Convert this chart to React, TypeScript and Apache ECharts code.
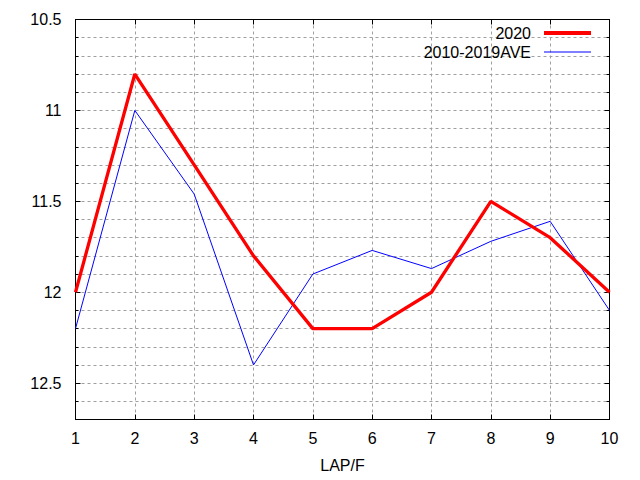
import React, { useEffect, useRef } from "react";
import * as echarts from "echarts";

const laps = [1, 2, 3, 4, 5, 6, 7, 8, 9, 10];
const series2020 = [12.0, 10.8, 11.3, 11.8, 12.2, 12.2, 12.0, 11.5, 11.7, 12.0];
const seriesAve = [12.2, 11.0, 11.46, 12.4, 11.9, 11.77, 11.87, 11.72, 11.61, 12.1];
const seriesNames = ["2020", "2010-2019AVE"];
const xName = "LAP/F";

const FONT = "Liberation Sans, Arial, sans-serif";

export default function App() {
  const ref = useRef<HTMLDivElement>(null);
  useEffect(() => {
    if (!ref.current) return;
    const chart = echarts.init(ref.current, undefined, { renderer: "svg" });
    const grid = { left: 75.5, top: 19.5, right: 30.5, bottom: 60.5 };
    const dash = { color: "#a0a0a0", type: [3, 3] as any, width: 1 };
    const isHalf = (v: number) => Math.abs(v * 2 - Math.round(v * 2)) < 1e-6;
    const yBase = {
      type: "value" as const,
      inverse: true,
      min: 10.5,
      max: 12.7,
      axisLine: { show: true, lineStyle: { color: "#000", width: 1 } },
    };
    const xBase = {
      type: "value" as const,
      min: 1,
      max: 10,
      interval: 1,
      axisLine: { show: true, lineStyle: { color: "#000", width: 1 } },
    };
    const legendText = { fontSize: 16, color: "#000", fontFamily: FONT, padding: [0, 8, 0, 0], lineHeight: 16 };
    chart.setOption({
      animation: false,
      backgroundColor: "#fff",
      textStyle: { fontFamily: FONT },
      grid: { ...grid, show: true, borderColor: "#000", borderWidth: 1, backgroundColor: "transparent" },
      legend: [
        {
          data: [{ name: seriesNames[0], icon: "rect", itemStyle: { color: "#ff0000", borderWidth: 0 } }],
          right: 49,
          top: 25,
          padding: 0,
          align: "right",
          itemWidth: 47,
          itemHeight: 4,
          textStyle: legendText,
        },
        {
          data: [{ name: seriesNames[1], icon: "rect", itemStyle: { color: "#0000ff", borderWidth: 0 } }],
          right: 49,
          top: 44,
          padding: 0,
          align: "right",
          itemWidth: 47,
          itemHeight: 1.2,
          textStyle: legendText,
        },
      ],
      xAxis: [
        {
          ...xBase,
          position: "bottom",
          name: xName,
          nameLocation: "middle",
          nameGap: 38,
          nameTextStyle: { fontSize: 16, color: "#000", fontFamily: FONT },
          axisTick: { show: true, inside: true, length: 5, lineStyle: { color: "#000" } },
          axisLabel: { fontSize: 16, color: "#000", margin: 11, fontFamily: FONT },
          splitLine: { show: true, lineStyle: dash },
        },
        {
          ...xBase,
          position: "top",
          axisTick: { show: true, inside: true, length: 5, lineStyle: { color: "#000" } },
          axisLabel: { show: false },
          splitLine: { show: false },
        },
      ],
      yAxis: [
        {
          ...yBase,
          position: "left",
          interval: 0.1,
          axisTick: { show: true, inside: true, length: 3, lineStyle: { color: "#000" } },
          axisLabel: { show: false },
          splitLine: { show: true, lineStyle: dash },
        },
        {
          ...yBase,
          position: "left",
          interval: 0.5,
          axisTick: { show: true, inside: true, length: 5, lineStyle: { color: "#000" } },
          axisLabel: {
            fontSize: 16,
            color: "#000",
            margin: 14,
            fontFamily: FONT,
            formatter: (v: number) => (isHalf(v) ? String(v) : ""),
          },
          splitLine: { show: false },
        },
        {
          ...yBase,
          position: "right",
          interval: 0.1,
          axisTick: { show: true, inside: true, length: 3, lineStyle: { color: "#000" } },
          axisLabel: { show: false },
          splitLine: { show: false },
        },
        {
          ...yBase,
          position: "right",
          interval: 0.5,
          axisTick: { show: true, inside: true, length: 5, lineStyle: { color: "#000" } },
          axisLabel: { show: false },
          splitLine: { show: false },
        },
      ],
      series: [
        {
          name: seriesNames[0],
          type: "line",
          xAxisIndex: 0,
          yAxisIndex: 0,
          symbol: "none",
          z: 3,
          lineStyle: { color: "#ff0000", width: 3.3 },
          itemStyle: { color: "#ff0000" },
          data: laps.map((l, i) => [l, series2020[i]]),
        },
        {
          name: seriesNames[1],
          type: "line",
          xAxisIndex: 0,
          yAxisIndex: 0,
          symbol: "none",
          z: 2,
          lineStyle: { color: "#0000ff", width: 1 },
          itemStyle: { color: "#0000ff" },
          data: laps.map((l, i) => [l, seriesAve[i]]),
        },
      ],
    });
    return () => chart.dispose();
  }, []);
  return (
    <div
      ref={ref}
      style={{ position: "absolute", left: 0, top: 0, width: 640, height: 480, background: "#fff" }}
    />
  );
}
